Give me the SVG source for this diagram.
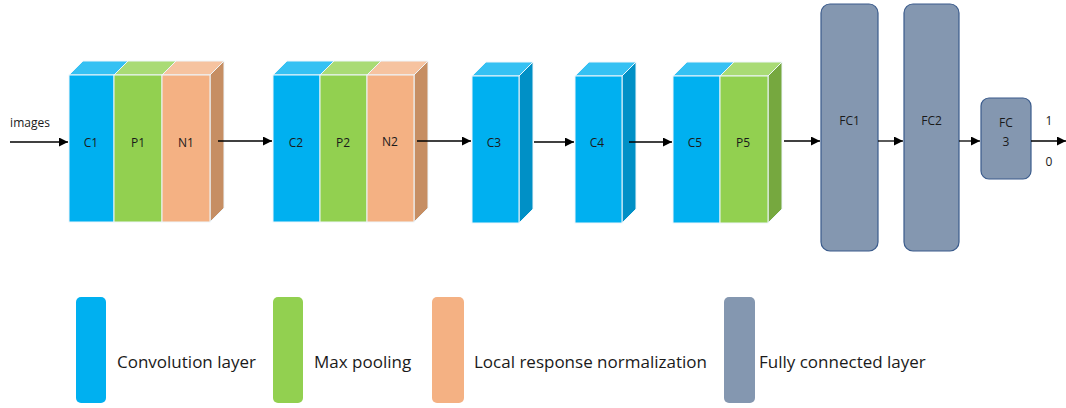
<svg xmlns="http://www.w3.org/2000/svg" width="1066" height="408" viewBox="0 0 1066 408">
  <defs>
    <marker id="arrow" viewBox="0 0 10 10" refX="10" refY="5" markerWidth="10" markerHeight="9" markerUnits="userSpaceOnUse" orient="auto">
      <path d="M0,0 L10,5 L0,10 z" fill="#000"/>
    </marker>
  </defs>
  <style>
    text { font-family: "Open Sans", "Liberation Sans", Arial, sans-serif; fill: #1a1a1a; }
    .lbl { font-size: 12px; text-anchor: middle; dominant-baseline: central; }
    .leg { font-size: 17px; dominant-baseline: central; }
    .face { stroke: #eef6fb; stroke-width: 1; }
    .conv { fill: #00B0F0; }
    .conv-top { fill: #35C1F3; }
    .conv-side { fill: #0090C6; }
    .pool { fill: #92D050; }
    .pool-top { fill: #A9DB75; }
    .pool-side { fill: #76A83F; }
    .norm { fill: #F4B183; }
    .norm-top { fill: #F6C3A0; }
    .norm-side { fill: #C68E63; }
    .fc { fill: #8497B0; stroke: #3A5B8C; stroke-width: 1.2; }
    .edge { stroke: #000; stroke-width: 1.3; fill: none; marker-end: url(#arrow); }
  </style>

  <!-- block 1: C1 / P1 / N1 -->
  <g id="C1">
    <polygon class="face conv-top" points="69,75 83,61 128,61 114,75"/>
    <rect class="face conv" x="69" y="75" width="45" height="147"/>
    <text class="lbl" x="91" y="142">C1</text>
  </g>
  <g id="P1">
    <polygon class="face pool-top" points="114,75 128,61 176,61 162,75"/>
    <rect class="face pool" x="114" y="75" width="48" height="147"/>
    <text class="lbl" x="138" y="142">P1</text>
  </g>
  <g id="N1">
    <polygon class="face norm-top" points="162,75 176,61 224,61 210,75"/>
    <polygon class="face norm-side" points="210,75 224,61 224,208 210,222"/>
    <rect class="face norm" x="162" y="75" width="48" height="147"/>
    <text class="lbl" x="186" y="142">N1</text>
  </g>

  <!-- block 2: C2 / P2 / N2 -->
  <g id="C2">
    <polygon class="face conv-top" points="273,75 287,61 334,61 320,75"/>
    <rect class="face conv" x="273" y="75" width="47" height="147"/>
    <text class="lbl" x="296" y="142">C2</text>
  </g>
  <g id="P2">
    <polygon class="face pool-top" points="320,75 334,61 381,61 367,75"/>
    <rect class="face pool" x="320" y="75" width="47" height="147"/>
    <text class="lbl" x="343" y="142">P2</text>
  </g>
  <g id="N2">
    <polygon class="face norm-top" points="367,75 381,61 428,61 414,75"/>
    <polygon class="face norm-side" points="414,75 428,61 428,208 414,222"/>
    <rect class="face norm" x="367" y="75" width="47" height="147"/>
    <text class="lbl" x="390" y="141">N2</text>
  </g>

  <!-- C3 -->
  <g id="C3">
    <polygon class="face conv-top" points="472,76 486,62 533,62 519,76"/>
    <polygon class="face conv-side" points="519,76 533,62 533,209 519,223"/>
    <rect class="face conv" x="472" y="76" width="47" height="147"/>
    <text class="lbl" x="494" y="142">C3</text>
  </g>

  <!-- C4 -->
  <g id="C4">
    <polygon class="face conv-top" points="575,76 589,62 636,62 622,76"/>
    <polygon class="face conv-side" points="622,76 636,62 636,209 622,223"/>
    <rect class="face conv" x="575" y="76" width="47" height="147"/>
    <text class="lbl" x="597" y="142">C4</text>
  </g>

  <!-- block 5: C5 / P5 -->
  <g id="C5">
    <polygon class="face conv-top" points="673,76 687,62 734,62 720,76"/>
    <rect class="face conv" x="673" y="76" width="47" height="147"/>
    <text class="lbl" x="695" y="142">C5</text>
  </g>
  <g id="P5">
    <polygon class="face pool-top" points="720,76 734,62 782,62 768,76"/>
    <polygon class="face pool-side" points="768,76 782,62 782,209 768,223"/>
    <rect class="face pool" x="720" y="76" width="48" height="147"/>
    <text class="lbl" x="743" y="142">P5</text>
  </g>

  <!-- fully connected layers -->
  <g id="FC1">
    <rect class="fc" x="821" y="4" width="57" height="247" rx="9"/>
    <text class="lbl" x="849.5" y="120">FC1</text>
  </g>
  <g id="FC2">
    <rect class="fc" x="904" y="4" width="55" height="247" rx="9"/>
    <text class="lbl" x="931.5" y="120">FC2</text>
  </g>
  <g id="FC3">
    <rect class="fc" x="981" y="98" width="50" height="81" rx="8"/>
    <text class="lbl" x="1006" y="122">FC</text>
    <text class="lbl" x="1006" y="141">3</text>
  </g>

  <!-- free labels -->
  <g id="labels">
    <text class="lbl" x="30" y="122">images</text>
    <text class="lbl" x="1049" y="120">1</text>
    <text class="lbl" x="1049" y="161">0</text>
  </g>

  <!-- connectors -->
  <g id="connectors">
    <line class="edge" x1="10" y1="142" x2="68" y2="142"/>
    <line class="edge" x1="218" y1="141" x2="272" y2="141"/>
    <line class="edge" x1="417" y1="141" x2="471" y2="141"/>
    <line class="edge" x1="534" y1="142" x2="574" y2="142"/>
    <line class="edge" x1="629" y1="142" x2="672" y2="142"/>
    <line class="edge" x1="784" y1="141" x2="820" y2="141"/>
    <line class="edge" x1="878" y1="141" x2="903" y2="141"/>
    <line class="edge" x1="959" y1="141" x2="980" y2="141"/>
    <line class="edge" x1="1031" y1="141" x2="1066" y2="141"/>
  </g>

  <!-- legend -->
  <g id="legend">
    <rect class="conv" x="76" y="297" width="30" height="106" rx="5"/>
    <text class="leg" x="117" y="361">Convolution layer</text>
    <rect class="pool" x="273" y="297" width="30" height="106" rx="5"/>
    <text class="leg" x="314" y="361">Max pooling</text>
    <rect class="norm" x="432" y="297" width="32" height="106" rx="5"/>
    <text class="leg" x="474" y="361">Local response normalization</text>
    <rect fill="#8497B0" x="724" y="297" width="31" height="106" rx="5"/>
    <text class="leg" x="759" y="361">Fully connected layer</text>
  </g>
</svg>
